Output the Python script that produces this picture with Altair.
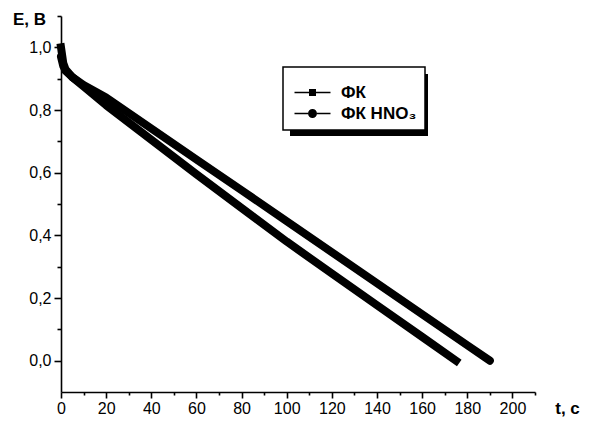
import altair as alt
import pandas as pd

# Series
t_fk = [0, 1, 2, 5, 10, 20, 40, 60, 80, 100, 120, 140, 160, 175]
e_fk = [1.0, 0.95, 0.93, 0.905, 0.875, 0.815, 0.705, 0.595, 0.487, 0.38, 0.278, 0.177, 0.076, 0.0]
t_hno3 = [0, 1, 2, 5, 10, 20, 40, 60, 80, 100, 120, 140, 160, 180, 190]
e_hno3 = [0.97, 0.94, 0.925, 0.905, 0.88, 0.84, 0.741, 0.642, 0.544, 0.445, 0.346, 0.247, 0.148, 0.049, 0.0]

series_names = ["ФК", "ФК HNO₃"]
x_ticks = list(range(0, 211, 10))
y_ticks = [round(i * 0.1, 1) for i in range(0, 12)]

df = pd.concat([
    pd.DataFrame({"t": t_fk, "E": e_fk, "s": series_names[0]}),
    pd.DataFrame({"t": t_hno3, "E": e_hno3, "s": series_names[1]}),
])

FONT = "Liberation Sans"
PLOT_W, PLOT_H = 474, 376

x_enc = alt.X(
    "t:Q",
    scale=alt.Scale(domain=[0, 210], nice=False, zero=False),
    axis=alt.Axis(
        values=x_ticks,
        labelExpr="datum.value % 20 === 0 ? format(datum.value, 'd') : ''",
        tickSize={"condition": {"test": "datum.value % 20 === 0", "value": 6}, "value": 3},
        title="t, c", titleAngle=0, titleAlign="center", titleBaseline="middle",
        titleX=506, titleY=16, titleFontWeight="bold", titleFontSize=17,
        labelPadding=2, labelFlush=False, labelOverlap=False,
    ),
)
y_enc = alt.Y(
    "E:Q",
    scale=alt.Scale(domain=[-0.1, 1.1], nice=False, zero=False),
    axis=alt.Axis(
        values=y_ticks,
        labelExpr="round(datum.value * 10) % 2 === 0 ? replace(format(datum.value, '.1f'), '.', ',') : ''",
        tickSize={"condition": {"test": "round(datum.value * 10) % 2 === 0", "value": 7}, "value": 4},
        title="E, B", titleAngle=0, titleAlign="center", titleBaseline="middle",
        titleX=-32, titleY=3, titleFontWeight="bold", titleFontSize=17,
        labelPadding=3, labelFlush=False, labelOverlap=False,
    ),
)

base = alt.Chart(df)

shadow = alt.Chart(pd.DataFrame({"a": [0]})).mark_rect(color="black").encode(
    x=alt.value(229), x2=alt.value(367), y=alt.value(58), y2=alt.value(120)
)

line_fk = base.transform_filter(alt.datum.s == series_names[0]).mark_line(
    color="black", strokeWidth=8, strokeCap="square", strokeJoin="round"
).encode(x=x_enc, y=y_enc)

line_hno3 = base.transform_filter(alt.datum.s == series_names[1]).mark_line(
    color="black", strokeWidth=8, strokeCap="round", strokeJoin="round"
).encode(x=x_enc, y=y_enc)

# legend symbols "—■—" and "—●—" (all filled shapes)
sym_square = ("M-3.6,-0.16H-0.7V0.16H-3.6Z M0.7,-0.16H3.6V0.16H0.7Z "
              "M-0.7,-0.7H0.7V0.7H-0.7Z")
sym_circle = ("M-3.6,-0.16H-0.9V0.16H-3.6Z M0.9,-0.16H3.6V0.16H0.9Z "
              "M-0.9,0A0.9,0.9,0,1,1,0.9,0A0.9,0.9,0,1,1,-0.9,0Z")

legend_pts = base.mark_point(filled=True, opacity=0, color="black").encode(
    x=x_enc, y=y_enc,
    shape=alt.Shape(
        "s:N",
        scale=alt.Scale(domain=series_names, range=[sym_square, sym_circle]),
        legend=alt.Legend(
            title=" ", titleFontSize=5, titlePadding=4,
            orient="none", legendX=222, legendY=51,
            symbolSize=100, symbolOpacity=1, symbolFillColor="black",
            symbolStrokeWidth=0,
            symbolOffset=13, labelOffset=20,
            labelFont=FONT, labelFontSize=17, labelFontWeight="bold", labelColor="black",
            padding=8, rowPadding=3, strokeColor="black", fillColor="white",
        ),
    ),
)

chart = alt.layer(shadow, line_fk, line_hno3, legend_pts).properties(
    width=PLOT_W, height=PLOT_H,
    autosize=alt.AutoSizeParams(type="none"),
    padding={"left": 53, "top": 8, "right": 56, "bottom": 26},
).configure_view(stroke=None).configure_axis(
    grid=False, domainColor="black", domainWidth=1.6, tickColor="black", tickWidth=1.6,
    labelFont=FONT, labelFontSize=16, labelColor="black",
    titleFont=FONT, titleColor="black",
).configure_legend(strokeWidth=1.5)

chart.save("out.html", embed_options={"renderer": "svg", "actions": False})
